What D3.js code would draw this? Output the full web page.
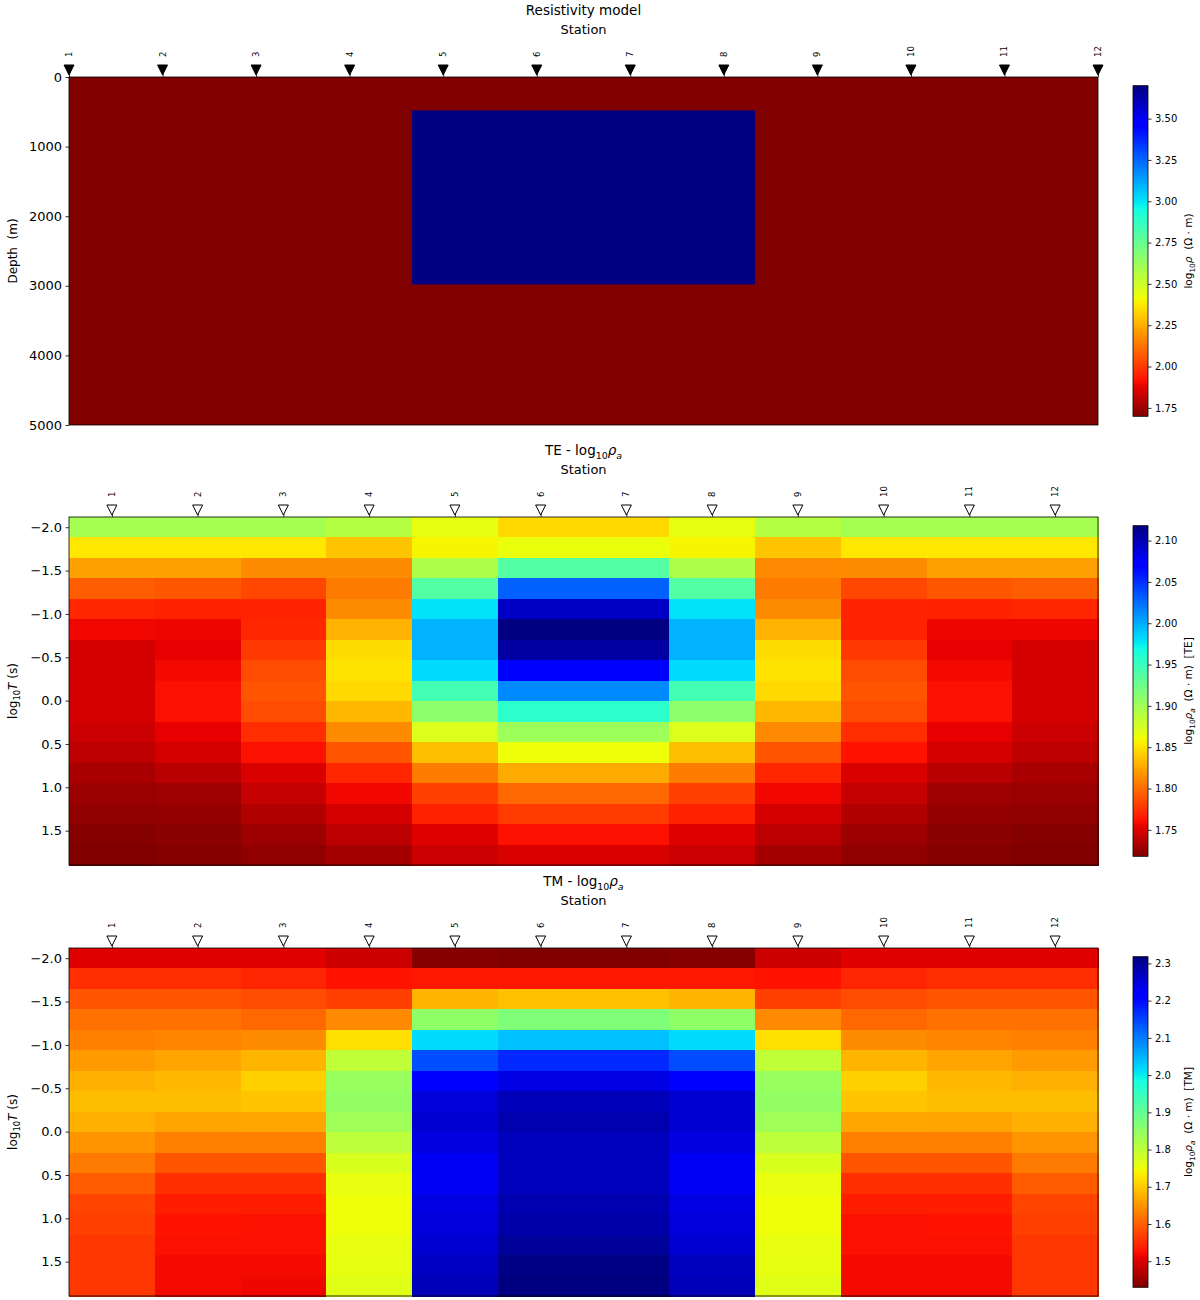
<!DOCTYPE html>
<html>
<head>
<meta charset="utf-8">
<script src="https://cdn.jsdelivr.net/npm/d3@7"></script>
<style>
  body { margin: 0; background: #fff; }
  text { font-family: "DejaVu Sans", sans-serif; fill: #000; white-space: pre; }
</style>
</head>
<body>
<svg id="chart" width="1200" height="1300"></svg>
<script>
// ---- data ----
const stations = [1, 2, 3, 4, 5, 6, 7, 8, 9, 10, 11, 12];
const stationX = [0, 1000, 2000, 3000, 4000, 5000, 6000, 7000, 8000, 9000, 10000, 11000]; // m
const modelDepth = [0, 5000];
const backgroundLogRho = 1.699;   // 50 ohm-m
const blockLogRho = 3.699;        // 5000 ohm-m
const blockX = [3667, 7333];
const blockZ = [480, 2980];

const logPeriods = [-2.000, -1.764, -1.528, -1.292, -1.056, -0.819, -0.583, -0.347, -0.111,
  0.125, 0.361, 0.597, 0.833, 1.069, 1.306, 1.542, 1.778];

// rows = periods (short -> long), columns = stations 1..12
const teLogRho = [
  [1.898, 1.898, 1.898, 1.890, 1.866, 1.846, 1.846, 1.866, 1.890, 1.898, 1.898, 1.898],
  [1.852, 1.852, 1.852, 1.837, 1.858, 1.864, 1.864, 1.858, 1.837, 1.852, 1.852, 1.852],
  [1.822, 1.822, 1.813, 1.813, 1.894, 1.938, 1.938, 1.894, 1.812, 1.813, 1.822, 1.822],
  [1.794, 1.791, 1.784, 1.806, 1.938, 2.030, 2.030, 1.938, 1.806, 1.784, 1.791, 1.794],
  [1.770, 1.768, 1.769, 1.813, 1.979, 2.094, 2.094, 1.979, 1.813, 1.769, 1.768, 1.770],
  [1.757, 1.756, 1.770, 1.830, 1.998, 2.118, 2.118, 1.998, 1.830, 1.769, 1.756, 1.756],
  [1.747, 1.754, 1.778, 1.847, 1.998, 2.106, 2.106, 1.998, 1.847, 1.778, 1.754, 1.747],
  [1.747, 1.758, 1.786, 1.850, 1.982, 2.070, 2.070, 1.982, 1.850, 1.786, 1.758, 1.747],
  [1.747, 1.761, 1.790, 1.846, 1.946, 2.014, 2.014, 1.946, 1.846, 1.790, 1.761, 1.747],
  [1.747, 1.761, 1.786, 1.832, 1.910, 1.957, 1.957, 1.910, 1.832, 1.786, 1.761, 1.747],
  [1.744, 1.754, 1.773, 1.813, 1.871, 1.902, 1.902, 1.871, 1.812, 1.773, 1.754, 1.744],
  [1.739, 1.747, 1.761, 1.790, 1.835, 1.862, 1.862, 1.835, 1.790, 1.762, 1.747, 1.739],
  [1.732, 1.738, 1.749, 1.770, 1.806, 1.826, 1.826, 1.806, 1.770, 1.749, 1.738, 1.732],
  [1.727, 1.729, 1.742, 1.757, 1.781, 1.798, 1.798, 1.781, 1.757, 1.742, 1.729, 1.727],
  [1.724, 1.725, 1.735, 1.747, 1.768, 1.779, 1.779, 1.768, 1.747, 1.735, 1.725, 1.724],
  [1.720, 1.722, 1.728, 1.739, 1.751, 1.761, 1.761, 1.751, 1.739, 1.728, 1.722, 1.720],
  [1.718, 1.720, 1.724, 1.731, 1.744, 1.749, 1.749, 1.744, 1.731, 1.724, 1.720, 1.718]
];

const tmLogRho = [
  [1.504, 1.504, 1.504, 1.489, 1.435, 1.430, 1.430, 1.435, 1.489, 1.504, 1.504, 1.504],
  [1.552, 1.552, 1.545, 1.528, 1.532, 1.532, 1.532, 1.532, 1.528, 1.545, 1.552, 1.552],
  [1.590, 1.590, 1.581, 1.570, 1.679, 1.690, 1.690, 1.679, 1.570, 1.581, 1.590, 1.590],
  [1.616, 1.616, 1.608, 1.639, 1.853, 1.870, 1.870, 1.853, 1.639, 1.608, 1.616, 1.616],
  [1.630, 1.634, 1.641, 1.720, 2.016, 2.040, 2.040, 2.016, 1.720, 1.641, 1.634, 1.630],
  [1.656, 1.664, 1.679, 1.800, 2.138, 2.172, 2.172, 2.140, 1.800, 1.679, 1.664, 1.656],
  [1.675, 1.683, 1.705, 1.842, 2.207, 2.242, 2.242, 2.207, 1.842, 1.705, 1.683, 1.675],
  [1.688, 1.688, 1.696, 1.847, 2.250, 2.274, 2.274, 2.256, 1.847, 1.696, 1.688, 1.688],
  [1.675, 1.664, 1.667, 1.834, 2.256, 2.282, 2.282, 2.256, 1.834, 1.667, 1.664, 1.675],
  [1.649, 1.630, 1.630, 1.803, 2.243, 2.271, 2.271, 2.243, 1.803, 1.630, 1.630, 1.649],
  [1.625, 1.590, 1.590, 1.773, 2.229, 2.269, 2.269, 2.229, 1.773, 1.590, 1.590, 1.625],
  [1.596, 1.554, 1.554, 1.757, 2.229, 2.269, 2.269, 2.229, 1.757, 1.554, 1.554, 1.596],
  [1.574, 1.537, 1.537, 1.750, 2.242, 2.281, 2.281, 2.242, 1.750, 1.537, 1.537, 1.574],
  [1.570, 1.528, 1.525, 1.750, 2.247, 2.287, 2.287, 2.247, 1.750, 1.525, 1.528, 1.570],
  [1.562, 1.525, 1.525, 1.757, 2.256, 2.297, 2.297, 2.256, 1.757, 1.525, 1.525, 1.562],
  [1.562, 1.519, 1.519, 1.759, 2.265, 2.312, 2.312, 2.269, 1.759, 1.519, 1.519, 1.562],
  [1.562, 1.519, 1.516, 1.765, 2.274, 2.318, 2.318, 2.275, 1.765, 1.519, 1.519, 1.562]
];

const depthTicks = [0, 1000, 2000, 3000, 4000, 5000];
const periodTicks = [-2.0, -1.5, -1.0, -0.5, 0.0, 0.5, 1.0, 1.5];
const modelCbarTicks = [1.75, 2.00, 2.25, 2.50, 2.75, 3.00, 3.25, 3.50];
const teCbarTicks = [1.75, 1.80, 1.85, 1.90, 1.95, 2.00, 2.05, 2.10];
const tmCbarTicks = [1.5, 1.6, 1.7, 1.8, 1.9, 2.0, 2.1, 2.2, 2.3];

// ---- layout ----
const plotLeft = 69, plotRight = 1098, panelH = 348;
const panelTops = [77, 517, 948];
const cbarX = 1133, cbarW = 15, cbarShrink = 0.95;

const svg = d3.select("#chart");
const defs = svg.append("defs");

// matplotlib "jet", used reversed (low = dark red)
const jetR = d3.scaleLinear().domain([0, 0.35, 0.66, 0.89, 1]).range([0, 0, 1, 1, 0.5]).clamp(true);
const jetG = d3.scaleLinear().domain([0, 0.125, 0.375, 0.64, 0.91, 1]).range([0, 0, 1, 1, 0, 0]).clamp(true);
const jetB = d3.scaleLinear().domain([0, 0.11, 0.34, 0.65, 1]).range([0.5, 1, 1, 0, 0]).clamp(true);
function jetReversed(lo, hi) {
  const norm = d3.scaleLinear().domain([lo, hi]).range([1, 0]).clamp(true);
  return v => {
    const t = norm(v);
    return d3.rgb(255 * jetR(t), 255 * jetG(t), 255 * jetB(t)).formatHex();
  };
}

// text with math-style subscripts / italics
function richText(sel, parts, size) {
  let shift = 0;
  parts.forEach(p => {
    const target = p.sub ? size * 0.28 : 0;
    sel.append("tspan")
      .attr("dy", target - shift)
      .attr("font-size", p.sub ? size * 0.7 : size)
      .attr("font-style", p.it ? "italic" : null)
      .text(p.t);
    shift = target;
  });
}

function styleAxis(ax, fontSize) {
  ax.select(".domain").remove();
  ax.selectAll(".tick line").attr("stroke", "#000").attr("stroke-width", 0.8);
  ax.selectAll(".tick text").attr("font-size", fontSize).attr("font-family", "DejaVu Sans").attr("fill", "#000");
}

function drawHeader(top, titleParts, x, positions, filled) {
  const g = svg.append("g");
  const cx = (plotLeft + plotRight) / 2;
  richText(g.append("text").attr("x", cx).attr("y", top - 62).attr("text-anchor", "middle"), titleParts, 13.5);
  g.append("text").attr("x", cx).attr("y", top - 43.5).attr("text-anchor", "middle")
    .attr("font-size", 13).text("Station");

  const ax = g.append("g").attr("transform", `translate(0,${top})`)
    .call(d3.axisTop(x).tickValues(positions).tickSize(3.5).tickFormat(""));
  styleAxis(ax, 10);

  const tri = "M-5,-5L5,-5L0,5Z";
  g.selectAll(null).data(positions).join("path")
    .attr("d", tri)
    .attr("transform", d => `translate(${x(d)},${top - 7})`)
    .attr("fill", filled ? "#000" : "#fff")
    .attr("stroke", "#000")
    .attr("stroke-width", 1);

  g.selectAll(null).data(positions).join("text")
    .attr("transform", d => `translate(${x(d)},${top - 20}) rotate(-90)`)
    .attr("dy", "0.35em")
    .attr("font-size", 8.5)
    .text((d, i) => stations[i]);
}

function drawYAxis(top, y, ticks, fmt, labelParts) {
  const ax = svg.append("g").attr("transform", `translate(${plotLeft},0)`)
    .call(d3.axisLeft(y).tickValues(ticks).tickSize(3.5).tickPadding(3.5).tickFormat(d3.format(fmt)));
  styleAxis(ax, 13);
  const lbl = svg.append("text")
    .attr("transform", `translate(17,${top + panelH / 2}) rotate(-90)`)
    .attr("text-anchor", "middle");
  richText(lbl, labelParts, 12);
}

function drawFrame(top) {
  svg.append("rect")
    .attr("x", plotLeft).attr("y", top)
    .attr("width", plotRight - plotLeft).attr("height", panelH)
    .attr("fill", "none").attr("stroke", "#000").attr("stroke-width", 0.8);
}

function drawColorbar(top, id, lo, hi, color, ticks, fmt, labelParts) {
  const h = panelH * cbarShrink;
  const y0 = top + (panelH - h) / 2;
  const cb = d3.scaleLinear().domain([lo, hi]).range([y0 + h, y0]);

  const grad = defs.append("linearGradient").attr("id", id)
    .attr("x1", 0).attr("y1", 0).attr("x2", 0).attr("y2", 1);
  grad.selectAll("stop").data(d3.range(0, 257)).join("stop")
    .attr("offset", d => d / 256)
    .attr("stop-color", d => color(hi - (d / 256) * (hi - lo)));

  svg.append("rect").attr("x", cbarX).attr("y", y0).attr("width", cbarW).attr("height", h)
    .attr("fill", `url(#${id})`).attr("stroke", "#000").attr("stroke-width", 0.8);

  const ax = svg.append("g").attr("transform", `translate(${cbarX + cbarW},0)`)
    .call(d3.axisRight(cb).tickValues(ticks).tickSize(3.5).tickPadding(3.5).tickFormat(d3.format(fmt)));
  styleAxis(ax, 10);

  const lbl = svg.append("text")
    .attr("transform", `translate(${cbarX + 59},${y0 + h / 2}) rotate(-90)`)
    .attr("text-anchor", "middle");
  richText(lbl, labelParts, 10.5);
}

// ---- panel 1: resistivity model ----
{
  const top = panelTops[0];
  const x = d3.scaleLinear().domain(d3.extent(stationX)).range([plotLeft, plotRight]);
  const y = d3.scaleLinear().domain(modelDepth).range([top, top + panelH]);
  const color = jetReversed(backgroundLogRho, blockLogRho);

  const cells = [
    { x0: stationX[0], x1: stationX[stationX.length - 1], z0: modelDepth[0], z1: modelDepth[1], v: backgroundLogRho },
    { x0: blockX[0], x1: blockX[1], z0: blockZ[0], z1: blockZ[1], v: blockLogRho }
  ];
  svg.append("g").selectAll("rect").data(cells).join("rect")
    .attr("x", d => x(d.x0)).attr("y", d => y(d.z0))
    .attr("width", d => x(d.x1) - x(d.x0)).attr("height", d => y(d.z1) - y(d.z0))
    .attr("fill", d => color(d.v));

  drawFrame(top);
  drawHeader(top, [{ t: "Resistivity model" }], x, stationX, true);
  drawYAxis(top, y, depthTicks, "d", [{ t: "Depth  (m)" }]);
  drawColorbar(top, "cb-model", backgroundLogRho, blockLogRho, color, modelCbarTicks, ".2f",
    [{ t: "log" }, { t: "10", sub: true }, { t: "ρ", it: true }, { t: "  (Ω · m)" }]);
}

// ---- panels 2 & 3: apparent resistivity pseudo-sections ----
function drawPseudoSection(top, grid, mode, id) {
  const step = logPeriods[1] - logPeriods[0];
  const x = d3.scaleLinear().domain([stations[0] - 0.5, stations[stations.length - 1] + 0.5]).range([plotLeft, plotRight]);
  const y = d3.scaleLinear()
    .domain([logPeriods[0] - step / 2, logPeriods[logPeriods.length - 1] + step / 2])
    .range([top, top + panelH]);
  const [lo, hi] = d3.extent(grid.flat());
  const color = jetReversed(lo, hi);

  const cells = grid.flatMap((row, i) => row.map((v, j) => ({ p: logPeriods[i], s: stations[j], v })));
  svg.append("g").attr("shape-rendering", "crispEdges").selectAll("rect").data(cells).join("rect")
    .attr("x", d => x(d.s - 0.5)).attr("y", d => y(d.p - step / 2))
    .attr("width", d => x(d.s + 0.5) - x(d.s - 0.5) + 0.5)
    .attr("height", d => y(d.p + step / 2) - y(d.p - step / 2) + 0.5)
    .attr("fill", d => color(d.v));

  drawFrame(top);
  drawHeader(top, [{ t: mode + " - log" }, { t: "10", sub: true }, { t: "ρ", it: true }, { t: "a", sub: true, it: true }],
    x, stations, false);
  drawYAxis(top, y, periodTicks, ".1f", [{ t: "log" }, { t: "10", sub: true }, { t: "T", it: true }, { t: " (s)" }]);
  drawColorbar(top, id, lo, hi, color, mode === "TE" ? teCbarTicks : tmCbarTicks, mode === "TE" ? ".2f" : ".1f",
    [{ t: "log" }, { t: "10", sub: true }, { t: "ρ", it: true }, { t: "a", sub: true, it: true }, { t: "  (Ω · m)  [" + mode + "]" }]);
}

drawPseudoSection(panelTops[1], teLogRho, "TE", "cb-te");
drawPseudoSection(panelTops[2], tmLogRho, "TM", "cb-tm");
</script>
</body>
</html>
